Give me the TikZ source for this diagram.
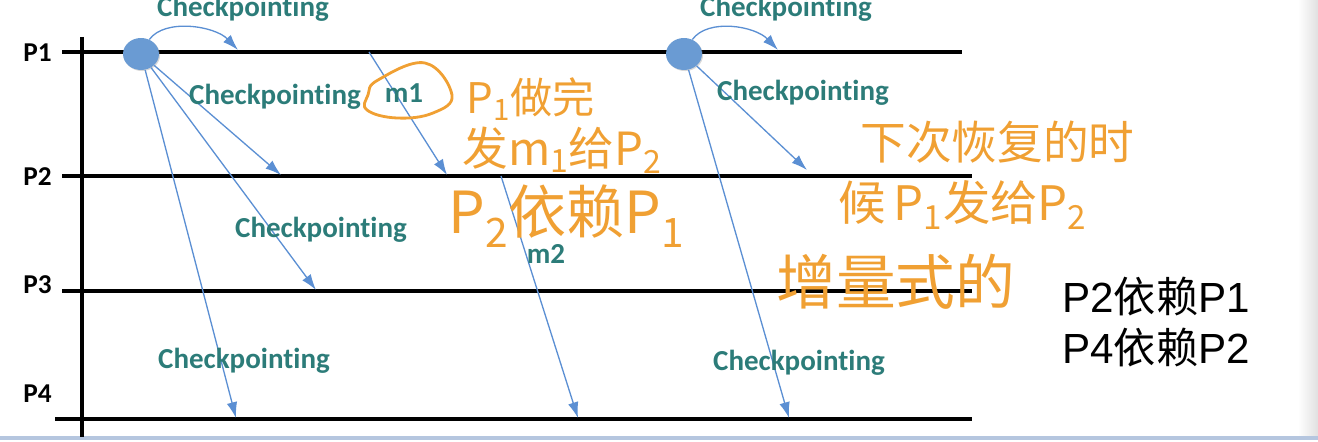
\documentclass[tikz,border=0pt]{standalone}
\usepackage{fontspec}
\setmainfont{Carlito}[Ligatures=NoCommon]
\newfontfamily\cjk{Noto Sans CJK SC}
\newfontfamily\arialf{Liberation Sans}
\usetikzlibrary{arrows.meta,positioning,shapes.geometric,shadows}

\definecolor{cpteal}{HTML}{2C7C79}
\definecolor{msgblue}{HTML}{5B8FD3}
\definecolor{dotblue}{HTML}{6A9BD3}
\definecolor{inkorange}{HTML}{F0A033}
\definecolor{baseblue}{HTML}{B5C6DF}

\begin{document}
\begin{tikzpicture}[x=0.02cm, y=-0.02cm,
  proc/.style={line width=1.9pt},
  plab/.style={font=\bfseries\fontsize{15.5}{16}\selectfont, inner sep=0pt},
  cp/.style={text=cpteal, font=\bfseries\fontsize{16.5}{17}\selectfont, inner sep=0pt},
  ckdot/.style={ellipse, fill=dotblue, minimum width=0.72cm, minimum height=0.64cm, inner sep=0pt,
    drop shadow={opacity=0.3, shadow xshift=0.6pt, shadow yshift=-0.6pt}},
  arr/.style={-{Latex[length=9pt, width=6pt]}, msgblue, line width=0.75pt},
  ink/.style={text=inkorange, inner sep=0pt, anchor=west},
  dep/.style={font=\fontsize{24}{29}\selectfont, align=left, inner sep=0pt}
]
\useasboundingbox (0,0) rectangle (1318,442);

% window edge
\shade[left color=white, right color=black!12] (1298,0) rectangle (1318,436);
\draw[baseblue, line width=2.3pt] (0,438) -- (1318,438);

% process lines
\coordinate (p1s) at (62,52);  \coordinate (p1e) at (962,52);
\coordinate (p2s) at (62,176); \coordinate (p2e) at (972,176);
\coordinate (p3s) at (62,291); \coordinate (p3e) at (972,291);
\coordinate (p4s) at (55,419); \coordinate (p4e) at (972,419);
\coordinate (axt) at (82,37);  \coordinate (axb) at (82,437);
\draw[proc] (p1s) -- (p1e);
\draw[proc] (p2s) -- (p2e);
\draw[proc] (p3s) -- (p3e);
\draw[proc] (p4s) -- (p4e);
\draw[proc] (axt) -- (axb);

\node[plab, anchor=east] (lp1) at (52,53) {P1};
\node[plab, anchor=east] (lp2) at (52,177) {P2};
\node[plab, anchor=east] (lp3) at (52,285) {P3};
\node[plab, anchor=east] (lp4) at (52,394) {P4};

% checkpoints
\node[ckdot] (ck1) at (141,54) {};
\node[ckdot] (ck2) at (684,54) {};

% arrow ends
\coordinate (t1) at (238,50);
\coordinate (a12) at (281,175);
\coordinate (a13) at (316,290);
\coordinate (a14) at (236,418);
\coordinate (m1s) at (369,52);  \coordinate (m1e) at (447,175);
\coordinate (m2s) at (501,176); \coordinate (m2e) at (578,418);
\coordinate (t2) at (778,50);
\coordinate (b22) at (807,170);
\coordinate (b24) at (789,418);

\draw[arr] (ck1.60) .. controls (165,18) and (215,26) .. (t1);
\draw[arr] (ck1) -- (a12);
\draw[arr] (ck1) -- (a13);
\draw[arr] (ck1) -- (a14);
\draw[arr] (m1s) -- (m1e);
\draw[arr] (m2s) -- (m2e);
\draw[arr] (ck2.60) .. controls (708,18) and (755,26) .. (t2);
\draw[arr] (ck2) -- (b22);
\draw[arr] (ck2) -- (b24);

% labels
\node[cp] (cpa) at (243,9) {Checkpointing};
\node[cp] (cpb) at (275,97) {Checkpointing};
\node[cp] (cpc) at (321,230) {Checkpointing};
\node[cp] (cpd) at (244,361) {Checkpointing};
\node[cp] (cpe) at (786,9) {Checkpointing};
\node[cp] (cpf) at (803,93) {Checkpointing};
\node[cp] (cpg) at (799,363) {Checkpointing};
\node[cp] (lm1) at (404,93) {m1};
\node[cp] (lm2) at (546,254) {m2};

% handwritten notes
\draw[inkorange, line width=1.6pt, line cap=round]
  plot[smooth cycle, tension=0.7] coordinates {(378,80) (425,63) (452,95) (433,113) (397,118) (367,110) (368,95)};
\node[ink, font=\cjk\fontsize{24}{24}\selectfont] (ha) at (466,99) {P\textsubscript{1}做完};
\node[ink, font=\cjk\fontsize{26}{26}\selectfont] (hb) at (462,150) {发m\textsubscript{1}给P\textsubscript{2}};
\node[ink, font=\cjk\fontsize{33}{33}\selectfont] (hc) at (448,216) {P\textsubscript{2}依赖P\textsubscript{1}};
\node[ink, font=\cjk\fontsize{26}{26}\selectfont] (hd) at (860,142) {下次恢复的时};
\node[ink, font=\cjk\fontsize{27}{27}\selectfont] (he) at (838,205) {候\,P\textsubscript{1}发给P\textsubscript{2}};
\node[ink, font=\cjk\fontsize{34}{34}\selectfont] (hf) at (776,282) {增量式的};

% dependencies
\node[dep, anchor=west] (deps) at (1062,322) {\arialf P2{\cjk 依赖}P1\\\arialf P4{\cjk 依赖}P2};
\end{tikzpicture}
\end{document}
